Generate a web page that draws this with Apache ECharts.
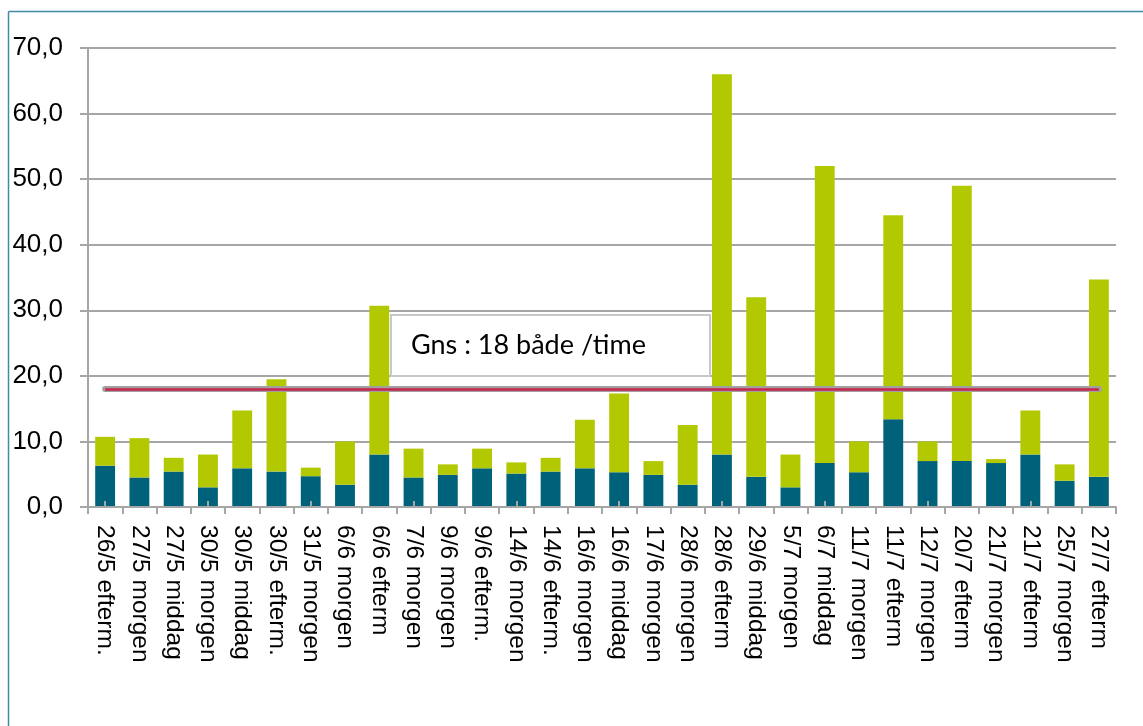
<!DOCTYPE html>
<html>
<head>
<meta charset="utf-8">
<script src="https://cdn.jsdelivr.net/npm/echarts@6/dist/echarts.min.js"></script>
<style>
  html, body { margin: 0; padding: 0; background: #ffffff; }
  #chart { width: 1143px; height: 726px; }
</style>
</head>
<body>
<div id="chart"></div>
<script>
// Observation sessions (date + part of day)
const categories = [
  '26/5 efterm.', '27/5 morgen', '27/5 middag', '30/5 morgen', '30/5 middag',
  '30/5 efterm.', '31/5 morgen', '6/6 morgen', '6/6 efterm', '7/6 morgen',
  '9/6 morgen', '9/6 efterm.', '14/6 morgen', '14/6 efterm.', '16/6 morgen',
  '16/6 middag', '17/6 morgen', '28/6 morgen', '28/6 efterm', '29/6 middag',
  '5/7 morgen', '6/7 middag', '11/7 morgen', '11/7 efterm', '12/7 morgen',
  '20/7 efterm', '21/7 morgen', '21/7 efterm', '25/7 morgen', '27/7 efterm'
];

// Lower (dark) segment of each stacked bar
const baseValues = [
  6.3, 4.5, 5.4, 3.0, 5.9,
  5.4, 4.7, 3.4, 8.0, 4.5,
  4.9, 5.9, 5.1, 5.4, 5.9,
  5.3, 4.9, 3.4, 8.0, 4.6,
  3.0, 6.7, 5.3, 13.4, 7.0,
  7.0, 6.7, 8.0, 4.0, 4.6
];

// Bar totals (top of the green segment)
const totalValues = [
  10.7, 10.5, 7.5, 8.0, 14.7,
  19.5, 6.0, 10.0, 30.7, 8.9,
  6.5, 8.9, 6.8, 7.5, 13.3,
  17.3, 7.0, 12.5, 66.0, 32.0,
  8.0, 52.0, 10.0, 44.5, 10.0,
  49.0, 7.3, 14.7, 6.5, 34.7
];

// Upper (green) segment = total minus the lower segment
const topValues = totalValues.map((t, i) => +(t - baseValues[i]).toFixed(2));

// Average boats per hour
const averageValue = 18;
const averageText = 'Gns : 18 både /time';

// Y axis tick values
const yTicks = [0, 10, 20, 30, 40, 50, 60, 70];

const chart = echarts.init(document.getElementById('chart'), null, { renderer: 'canvas' });

const gridColor = '#a6a6a6';
const labelFont = 'Arial, Liberation Sans, Helvetica, sans-serif';

const lineEnds = [[
  { coord: [categories[0], averageValue] },
  { coord: [categories[categories.length - 1], averageValue] }
]];

chart.setOption({
  animation: false,
  backgroundColor: '#ffffff',
  grid: { left: 88, right: 27, top: 48, bottom: 219, containLabel: false },
  xAxis: [
    {
      type: 'category',
      data: categories,
      boundaryGap: true,
      z: 3,
      axisLine: { show: true, lineStyle: { color: gridColor, width: 2 } },
      axisTick: { show: true, alignWithLabel: false, length: 7, lineStyle: { color: gridColor, width: 2 } },
      axisLabel: {
        rotate: -90,
        margin: 18,
        fontFamily: labelFont,
        fontSize: 24.5,
        color: '#000000',
        interval: 0
      },
      splitLine: { show: false }
    },
    {
      // inner tick marks at each bar centre
      type: 'category',
      data: categories,
      position: 'bottom',
      gridIndex: 0,
      z: 3,
      axisLine: { show: false },
      axisTick: { show: true, inside: true, alignWithLabel: true, length: 6, lineStyle: { color: gridColor, width: 2 } },
      axisLabel: { show: false },
      splitLine: { show: false }
    }
  ],
  yAxis: {
    type: 'value',
    min: yTicks[0],
    max: yTicks[yTicks.length - 1],
    interval: yTicks[1] - yTicks[0],
    axisLine: { show: true, lineStyle: { color: gridColor, width: 2 } },
    axisTick: { show: true, length: 8, lineStyle: { color: gridColor, width: 2 } },
    axisLabel: {
      margin: 25,
      fontFamily: labelFont,
      fontSize: 26,
      color: '#000000',
      formatter: v => v.toFixed(1).replace('.', ',')
    },
    splitLine: { show: true, lineStyle: { color: gridColor, width: 2 } }
  },
  series: [
    {
      name: 'base',
      type: 'bar',
      stack: 'total',
      data: baseValues,
      barWidth: '58%',
      itemStyle: { color: '#00627a' },
      markLine: {
        silent: true,
        symbol: 'none',
        z: 5,
        label: { show: false },
        lineStyle: { color: '#a0a0a0', width: 6, type: 'solid', cap: 'round' },
        data: lineEnds
      }
    },
    {
      name: 'top',
      type: 'bar',
      stack: 'total',
      data: topValues,
      barWidth: '58%',
      itemStyle: { color: '#b2c800' },
      markLine: {
        silent: true,
        symbol: 'none',
        z: 6,
        label: { show: false },
        lineStyle: { color: '#c8244f', width: 2.5, type: 'solid', cap: 'butt' },
        data: lineEnds
      }
    }
  ],
  graphic: [
    // frame lines
    {
      type: 'line', z: 10,
      shape: { x1: 8.5, y1: 11.5, x2: 1143, y2: 11.5 },
      style: { stroke: '#3f8aa6', lineWidth: 1.5 }
    },
    {
      type: 'line', z: 10,
      shape: { x1: 8.5, y1: 11.5, x2: 8.5, y2: 726 },
      style: { stroke: '#3f8aa6', lineWidth: 1.5 }
    },
    // average annotation box
    {
      type: 'rect', z: 20,
      shape: { x: 391, y: 315, width: 319, height: 61 },
      style: { fill: '#ffffff', stroke: '#c8c8c8', lineWidth: 2 }
    },
    {
      type: 'text', z: 21,
      x: 411, y: 345,
      style: {
        text: averageText,
        fill: '#000000',
        font: '27px Lato, "Open Sans", sans-serif',
        verticalAlign: 'middle'
      }
    }
  ]
});
</script>
</body>
</html>
